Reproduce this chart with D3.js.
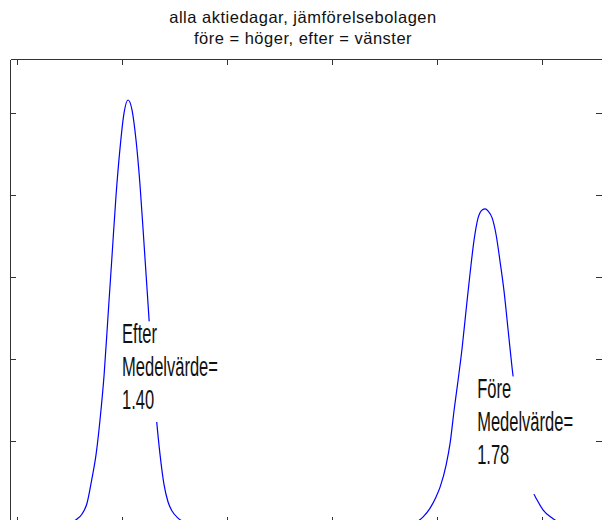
<!DOCTYPE html>
<html>
<head>
<meta charset="utf-8">
<script src="https://cdn.jsdelivr.net/npm/d3@7"></script>
<style>
  body { margin: 0; background: #fff; }
  svg { display: block; }
  .axis path, .axis line { stroke: #333; stroke-width: 1; shape-rendering: crispEdges; }
  .title { font-family: "Liberation Sans", Arial, sans-serif; font-size: 16.5px; letter-spacing: 0.5px; fill: #111; }
  .lbl { font-family: "Liberation Sans", Arial, sans-serif; font-size: 28px; fill: #111; }
</style>
</head>
<body>
<div id="chart"></div>
<script>
// titel
const titleLines = ["alla aktiedagar, jämförelsebolagen", "före = höger, efter = vänster"];

// tick positions (inga etiketter syns)
const xTicks = [1.3, 1.4, 1.5, 1.6, 1.7, 1.8];
const yTicks = [0, 5, 10, 15, 20, 25];

// täthet "efter" (vänster kurva)
const efterX = [1.3505, 1.3571, 1.3619, 1.3667, 1.3714, 1.3752, 1.3790, 1.3829, 1.3867, 1.3905,
                1.3943, 1.3981, 1.4019, 1.4057, 1.4095, 1.4133, 1.4171, 1.4210, 1.4248, 1.4286,
                1.4324, 1.4362, 1.4400, 1.4438, 1.4476, 1.4533, 1.4610];
const efterY = [0, 0.24, 0.55, 1.22, 2.74, 4.15, 6.28, 9.02, 12.68, 16.34,
                20.00, 22.87, 25.00, 25.79, 25.18, 23.35, 20.61, 16.95, 13.29, 9.63,
                6.59, 4.15, 2.32, 1.28, 0.73, 0.30, 0];

// täthet "före" (höger kurva)
const foreX = [1.6790, 1.6867, 1.6933, 1.6990, 1.7029, 1.7086, 1.7124, 1.7162, 1.7200, 1.7238,
               1.7276, 1.7314, 1.7352, 1.7390, 1.7429, 1.7457, 1.7486, 1.7524, 1.7562, 1.7600,
               1.7638, 1.7676, 1.7714, 1.7752, 1.7790, 1.7829, 1.7867, 1.7895, 1.7952, 1.8010,
               1.8095, 1.8171];
const foreY = [0, 0.37, 0.91, 1.59, 2.20, 3.54, 4.88, 6.89, 8.72, 10.67,
               12.99, 15.24, 17.26, 18.60, 19.09, 19.15, 19.02, 18.60, 17.56, 15.91,
               14.09, 11.77, 9.45, 7.50, 5.67, 4.15, 2.93, 2.20, 1.40, 0.79,
               0.30, 0];

// textrutor
const labelText = [
    { lines: ["Efter", "Medelvärde=", "1.40"], x: 1.40, y: 10.98, padBottom: 7 },
    { lines: ["Före", "Medelvärde=", "1.78"], x: 1.7381, y: 7.62, padBottom: 24 }
];

const width = 602, height = 520;
const plot = { left: 10, right: 602, top: 59, bottom: 523 };

const svg = d3.select('#chart').append('svg')
    .attr('width', width).attr('height', height);

const xScale = d3.scaleLinear([1.2933, 1.857], [plot.left, plot.right]);
const yScale = d3.scaleLinear([0, 28.29], [plot.bottom, plot.top]);

// titel
svg.append('g').selectAll('text').data(titleLines).join('text')
    .attr('class', 'title')
    .attr('x', 303)
    .attr('y', (d, i) => 23 + i * 21)
    .attr('text-anchor', 'middle')
    .text(d => d);

// axlar, ticks inåt
const noLabel = () => "";
svg.append('g').attr('class', 'axis').attr('transform', `translate(0,${plot.bottom})`)
    .call(d3.axisBottom(xScale).tickValues(xTicks).tickSizeInner(-6).tickSizeOuter(0).tickFormat(noLabel));
svg.append('g').attr('class', 'axis').attr('transform', `translate(0,${plot.top})`)
    .call(d3.axisTop(xScale).tickValues(xTicks).tickSizeInner(-6).tickSizeOuter(0).tickFormat(noLabel));
svg.append('g').attr('class', 'axis').attr('transform', `translate(${plot.left},0)`)
    .call(d3.axisLeft(yScale).tickValues(yTicks).tickSizeInner(-6).tickSizeOuter(0).tickFormat(noLabel));
svg.append('g').attr('class', 'axis').attr('transform', `translate(${plot.right},0)`)
    .call(d3.axisRight(yScale).tickValues(yTicks).tickSizeInner(-6).tickSizeOuter(0).tickFormat(noLabel));

// kurvor
const line = d3.line().x(d => xScale(d[0])).y(d => yScale(d[1])).curve(d3.curveMonotoneX);
[[efterX, efterY], [foreX, foreY]].forEach(([xs, ys]) => {
    svg.append('path')
        .datum(xs.map((x, i) => [x, ys[i]]))
        .attr('fill', 'none')
        .attr('stroke', '#0000ff')
        .attr('stroke-width', 1.2)
        .attr('d', line);
});

// textrutor med vit bakgrund
const sx = 0.59;
labelText.forEach(lab => {
    const px = xScale(lab.x), py = yScale(lab.y);
    const box = svg.append('rect').attr('fill', '#fff');
    const g = svg.append('g').attr('transform', `translate(${px},${py}) scale(${sx},1)`);
    g.selectAll('text').data(lab.lines).join('text')
        .attr('class', 'lbl')
        .attr('x', 0)
        .attr('y', (d, i) => i * 33)
        .text(d => d);
    const bb = g.node().getBBox();
    box.attr('x', px + bb.x * sx - 3)
        .attr('y', py + bb.y + 4)
        .attr('width', bb.width * sx + 6)
        .attr('height', bb.height - 4 + lab.padBottom);
});
</script>
</body>
</html>
